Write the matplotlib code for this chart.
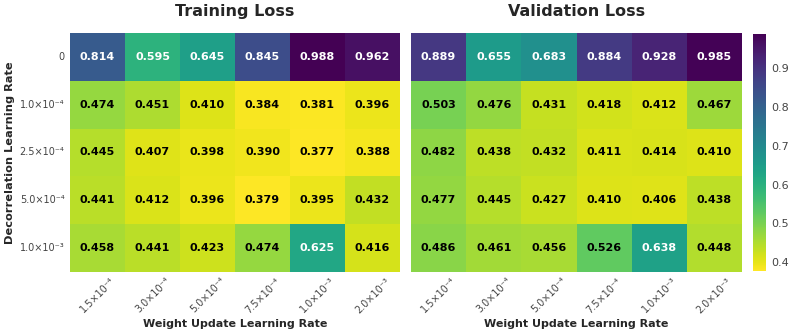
import numpy as np
import matplotlib
matplotlib.use("Agg")
import matplotlib.pyplot as plt
import seaborn as sns

weight_lr = ["1.5×10⁻⁴", "3.0×10⁻⁴", "5.0×10⁻⁴", "7.5×10⁻⁴", "1.0×10⁻³", "2.0×10⁻³"]
decor_lr = ["0", "1.0×10⁻⁴", "2.5×10⁻⁴", "5.0×10⁻⁴", "1.0×10⁻³"]

train_loss = np.array([
    [0.814, 0.595, 0.645, 0.845, 0.988, 0.962],
    [0.474, 0.451, 0.410, 0.384, 0.381, 0.396],
    [0.445, 0.407, 0.398, 0.390, 0.377, 0.388],
    [0.441, 0.412, 0.396, 0.379, 0.395, 0.432],
    [0.458, 0.441, 0.423, 0.474, 0.625, 0.416],
])
val_loss = np.array([
    [0.889, 0.655, 0.683, 0.884, 0.928, 0.985],
    [0.503, 0.476, 0.431, 0.418, 0.412, 0.467],
    [0.482, 0.438, 0.432, 0.411, 0.414, 0.410],
    [0.477, 0.445, 0.427, 0.410, 0.406, 0.438],
    [0.486, 0.461, 0.456, 0.526, 0.638, 0.448],
])

sns.set_style("white")
plt.rcParams['font.family'] = ['DejaVu Sans']

fig = plt.figure(figsize=(7.93, 3.35), dpi=100)
W, H = 793, 335
ax1 = fig.add_axes([70/W, 1-272/H, 330/W, 239/H])
ax2 = fig.add_axes([411/W, 1-272/H, 331/W, 239/H])
cax = fig.add_axes([753/W, 1-271/H, 13/W, 237/H])

vmin = min(train_loss.min(), val_loss.min())
vmax = max(train_loss.max(), val_loss.max())

for ax, data, title, cb in [(ax1, train_loss, "Training Loss", False),
                            (ax2, val_loss, "Validation Loss", True)]:
    sns.heatmap(data, ax=ax, cmap="viridis_r", vmin=vmin, vmax=vmax,
                annot=True, fmt=".3f", annot_kws={"fontsize": 8, "fontweight": "bold"},
                linewidths=0,
                cbar=cb, cbar_ax=cax if cb else None,
                xticklabels=weight_lr, yticklabels=decor_lr if ax is ax1 else False)
    for t in ax.texts:
        r, g, b, _ = matplotlib.colors.to_rgba(t.get_color())
        lum = 0.299 * r + 0.587 * g + 0.114 * b
        t.set_color("white" if lum > 0.5 else "black")
    ax.set_title(title, fontsize=11.5, fontweight="bold", color="#262626", pad=12)
    ax.set_xlabel("Weight Update Learning Rate", fontsize=8, fontweight="bold", color="#262626", labelpad=3)
    ax.tick_params(axis="x", labelsize=7, labelcolor="#444444", length=0, pad=3)
    for lbl in ax.get_xticklabels():
        lbl.set_rotation(45)
        lbl.set_ha("center")
    ax.tick_params(axis="y", labelsize=7, labelcolor="#444444", length=0, rotation=0, pad=4)

ax1.set_ylabel("Decorrelation Learning Rate", fontsize=8.2, fontweight="bold", color="#262626")
ax1.yaxis.set_label_coords(-0.167, 0.5)
cax.tick_params(labelsize=8, labelcolor="#444444", length=0)
cax.set_frame_on(False)

fig.savefig("out.png", dpi=100)
